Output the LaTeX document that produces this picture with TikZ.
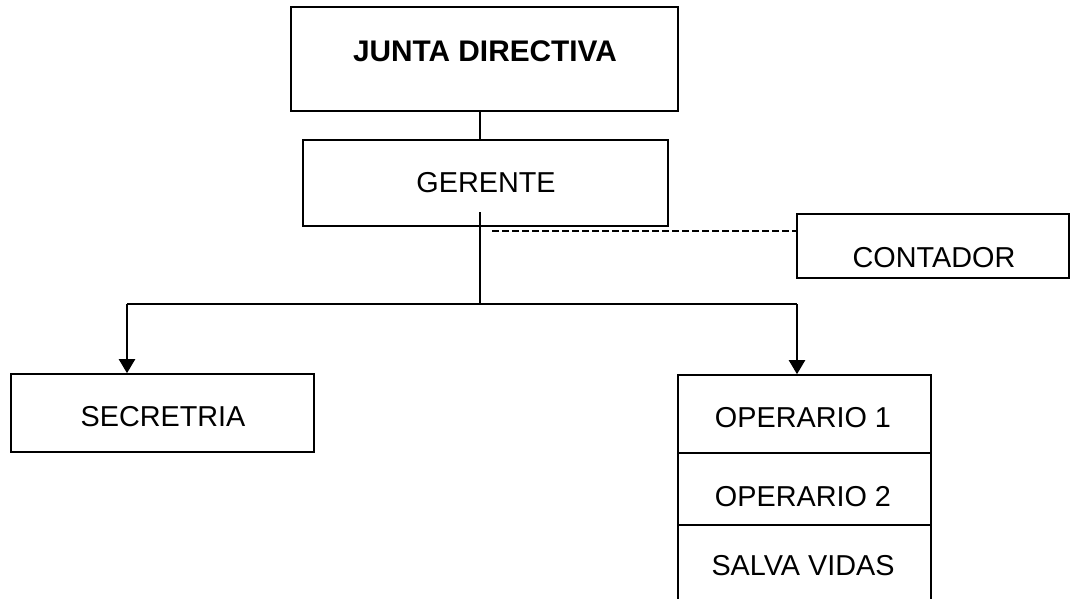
\documentclass[tikz,border=0pt]{standalone}
\usepackage{fontspec}
\setmainfont{Liberation Sans}
\usetikzlibrary{arrows.meta}
\tikzset{
  orgbox/.style={draw=black, line width=1.6pt, rectangle, inner sep=0pt},
  orgtext/.style={anchor=base, inner sep=0pt, font=\fontsize{28.8}{34}\selectfont},
  link/.style={draw=black, line width=2.2pt},
  arrowlink/.style={link, -{Triangle[width=16pt,length=14pt]}},
  dashlink/.style={draw=black, line width=2.4pt, dash pattern=on 7pt off 3pt},
}
\begin{document}
\begin{tikzpicture}[x=1pt,y=-1pt]
\useasboundingbox (0,0) rectangle (1071,599);
% boxes
\node[orgbox, minimum width=387pt, minimum height=104pt] (junta) at (484.5,59) {};
\node[orgbox, minimum width=365pt, minimum height=86pt] (gerente) at (485.5,183) {};
\node[orgbox, minimum width=272pt, minimum height=64pt] (contador) at (933,246) {};
\node[orgbox, minimum width=303pt, minimum height=78pt] (secretaria) at (162.5,413) {};
\node[orgbox, minimum width=253pt, minimum height=78pt] (op1) at (804.5,414) {};
\node[orgbox, minimum width=253pt, minimum height=72pt] (op2) at (804.5,489) {};
\coordinate (svnw) at (678,525);
\coordinate (svne) at (931,525);
\coordinate (svsw) at (678,600);
\coordinate (svse) at (931,600);
\draw[line width=1.6pt] (svsw) -- (svnw) -- (svne) -- (svse);
% texts
\node[orgtext, font=\fontsize{29.8}{34}\selectfont\bfseries] (tjunta) at (485,62) {JUNTA DIRECTIVA};
\node[orgtext] (tgerente) at (486,193) {GERENTE};
\node[orgtext] (tcontador) at (934,267) {CONTADOR};
\node[orgtext] (tsecretaria) at (163,426) {SECRETRIA};
\node[orgtext] (top1) at (803,427) {OPERARIO 1};
\node[orgtext] (top2) at (803,506) {OPERARIO 2};
\node[orgtext] (tsalva) at (803,575) {SALVA VIDAS};
% connectors
\coordinate (gx) at (480,0);
\coordinate (gstart) at (480,212);
\coordinate (hub) at (480,304);
\coordinate (dstart) at (492,231);
\coordinate (lx) at (127,304);
\coordinate (rx) at (797,304);
\draw[link] (junta.south -| gx) -- (gerente.north -| gx);
\draw[link] (gstart) -- (hub);
\draw[link] (lx) -- (rx);
\draw[arrowlink] (lx) -- (lx |- secretaria.north);
\draw[arrowlink] (rx) -- (rx |- op1.north);
\draw[dashlink] (dstart) -- (dstart -| contador.west);
\end{tikzpicture}
\end{document}
